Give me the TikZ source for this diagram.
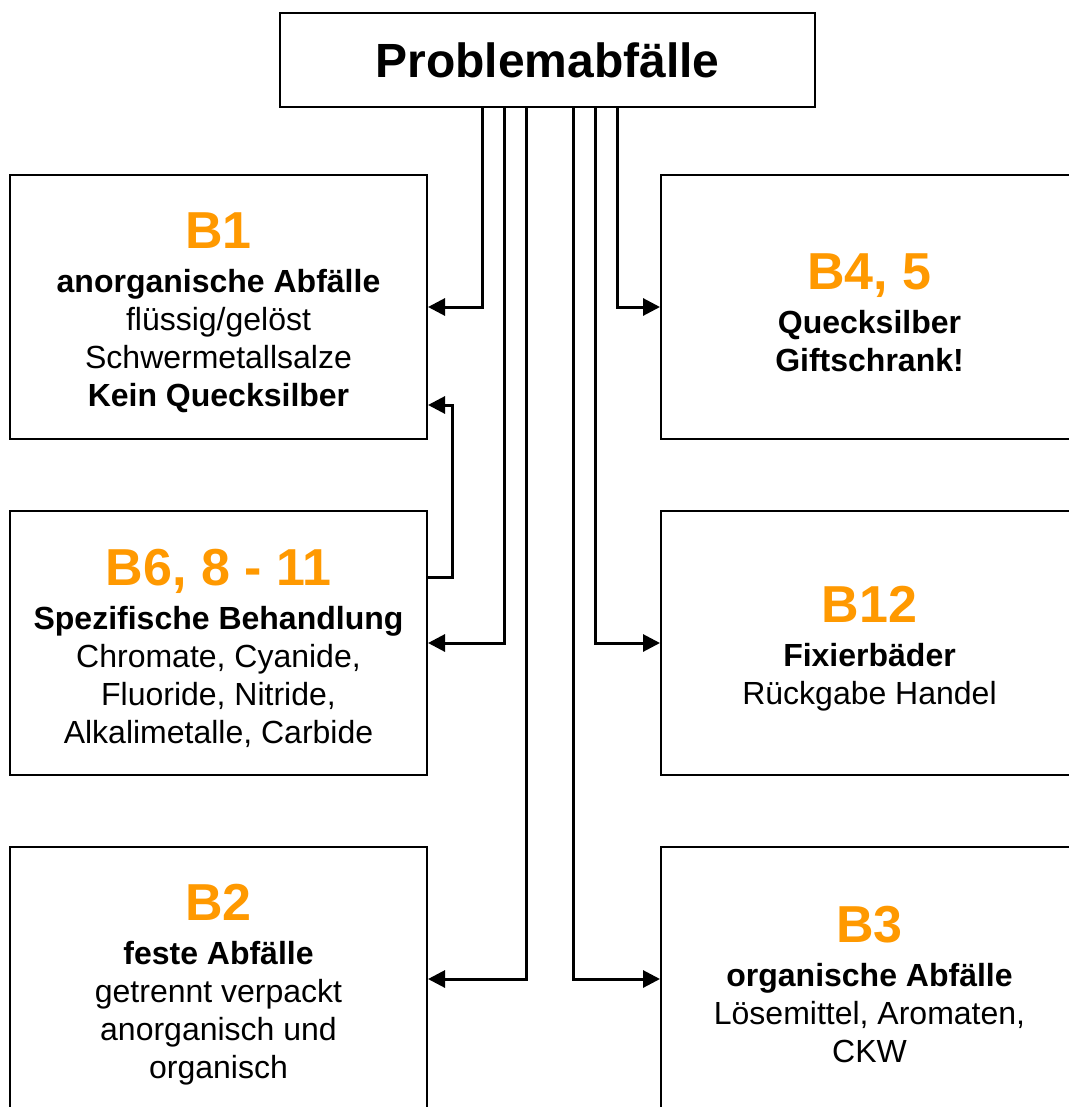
\documentclass[tikz,border=0pt]{standalone}
\usepackage{fontspec}
\setmainfont{Liberation Sans}
\usetikzlibrary{arrows.meta}
\definecolor{headorange}{RGB}{255,153,0}
\newcommand\hd[1]{{\fontsize{52}{52}\selectfont\bfseries\color{headorange}\rule{0pt}{47pt}#1}\\[6pt]}
\begin{document}
\begin{tikzpicture}[x=1pt,y=-1pt,
  box/.style={draw,line width=2pt,minimum width=417pt,minimum height=264pt,
    inner sep=0pt,align=center,font=\fontsize{32}{38}\selectfont},
  conn/.style={line width=3pt,-{Triangle[length=17pt,width=17pt]}},
]
\path[use as bounding box,fill=white] (0,0) rectangle (1068,1107);

% title box
\node[draw,line width=2pt,minimum width=535pt,minimum height=94pt,inner sep=0pt,
  font=\fontsize{48}{48}\selectfont\bfseries] (top) at (547.5,60) {Problemabfälle};

% left column
\node[box] (b1) at (218.5,307) {\hd{B1}\textbf{anorganische Abfälle}\\flüssig/gelöst\\Schwermetallsalze\\\textbf{Kein Quecksilber}};
\node[box] (b6) at (218.5,643) {\hd{B6, 8 - 11}\textbf{Spezifische Behandlung}\\Chromate, Cyanide,\\Fluoride, Nitride,\\Alkalimetalle, Carbide};
\node[box] (b2) at (218.5,979) {\hd{B2}\textbf{feste Abfälle}\\getrennt verpackt\\anorganisch und\\organisch};

% right column
\node[box] (b45) at (869.5,307) {\hd{B4, 5}\textbf{Quecksilber}\\\textbf{Giftschrank!}};
\node[box] (b12) at (869.5,643) {\hd{B12}\textbf{Fixierbäder}\\Rückgabe Handel};
\node[box] (b3) at (869.5,979) {\hd{B3}\textbf{organische Abfälle}\\Lösemittel, Aromaten,\\CKW};

% connectors from the title box
\draw[conn] ([xshift=-65.5pt]top.south) |- (b1.east);
\draw[conn] ([xshift=-43.5pt]top.south) |- (b6.east);
\draw[conn] ([xshift=-21.5pt]top.south) |- (b2.east);
\draw[conn] ([xshift=25.5pt]top.south) |- (b3.west);
\draw[conn] ([xshift=47.5pt]top.south) |- (b12.west);
\draw[conn] ([xshift=69.5pt]top.south) |- (b45.west);

% link B6 -> B1
\draw[conn] ([yshift=66pt]b6.east) -- ++(24,0) |- ([yshift=-98pt]b1.east);
\end{tikzpicture}
\end{document}
